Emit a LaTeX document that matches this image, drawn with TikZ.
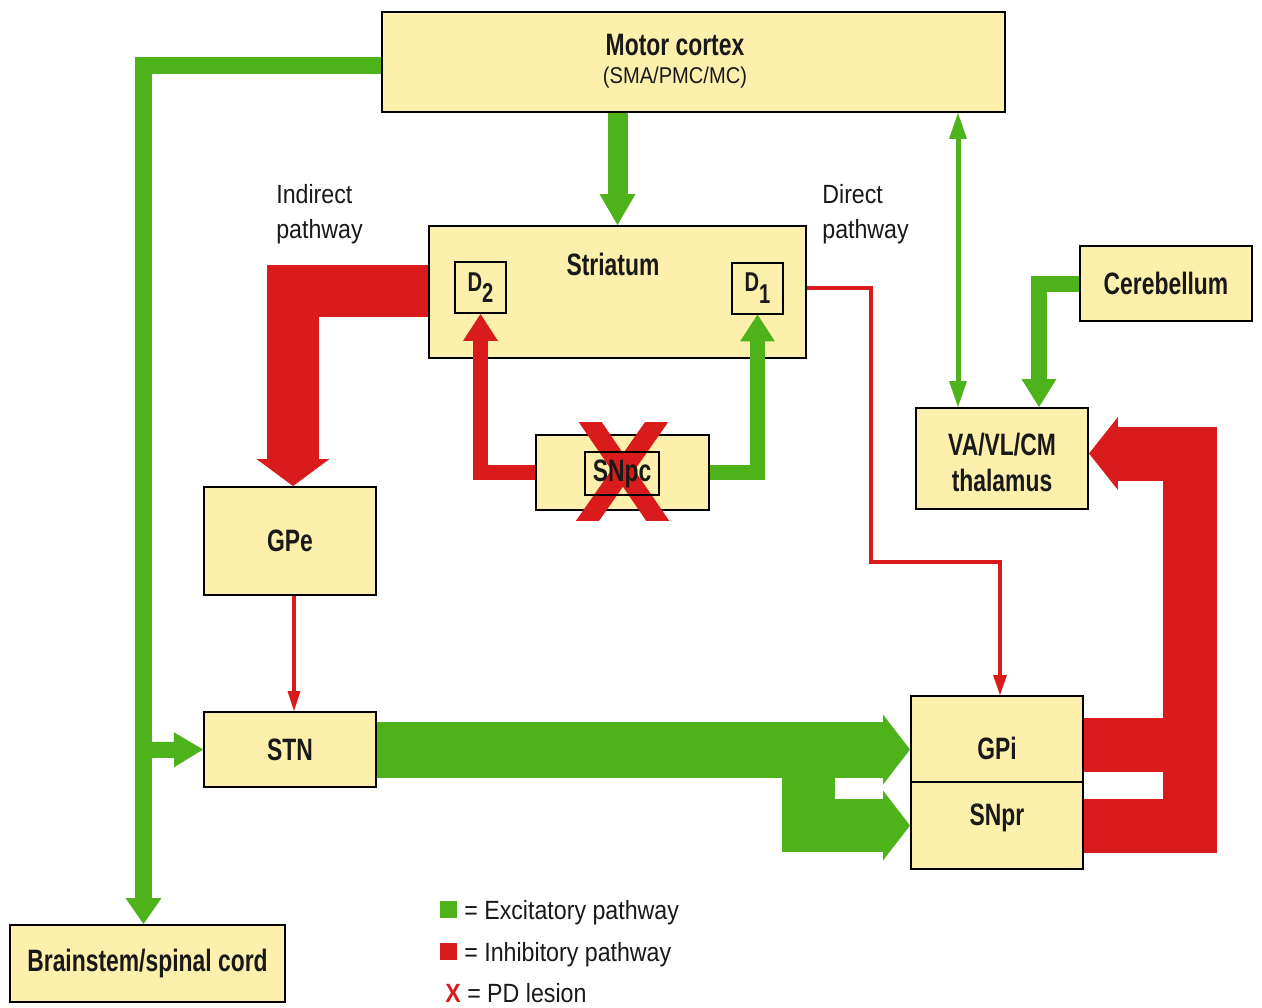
\documentclass[tikz,border=0pt]{standalone}
\usepackage{fontspec}
\setmainfont{Liberation Sans}[FakeStretch=0.88]
\newfontfamily\boxfont{Liberation Sans}[FakeStretch=0.74]
\usetikzlibrary{arrows.meta,calc}
\definecolor{boxy}{RGB}{252,240,172}
\definecolor{pg}{RGB}{78,178,26}
\definecolor{pr}{RGB}{218,27,27}
\definecolor{txt}{RGB}{25,25,25}
\tikzset{
  box/.style={draw=black, line width=0.04cm, fill=boxy, inner sep=0pt, align=center, text=txt,
    font=\boxfont\bfseries\fontsize{17.6}{20}\selectfont},
  boxtext/.style={text=txt, inner sep=0pt, align=center, font=\boxfont\bfseries\fontsize{17.6}{20}\selectfont},
  plain/.style={text=txt, inner sep=0pt, font=\fontsize{15}{19.8}\selectfont},
  arr/.style={line cap=butt, line join=miter},
}
\begin{document}
\begin{tikzpicture}[x=0.02cm,y=-0.02cm]
\useasboundingbox[fill=white] (0,0) rectangle (1262,1008);

% boxes
\node[box, minimum width=12.46cm, minimum height=2cm] (mc) at (693.5,62) {};
\node[boxtext, font=\fontsize{13}{16}\selectfont] (mcl) at (675,61)
  {{\boxfont\bfseries\fontsize{17.6}{17.6}\selectfont Motor cortex}\\(SMA/PMC/MC)};
\node[box, minimum width=7.54cm, minimum height=2.64cm] (str) at (617.5,292) {};
\node[boxtext] (strl) at (613,264) {Striatum};
\node[box, minimum size=1.02cm, font=\boxfont\bfseries\fontsize{15.5}{15.5}\selectfont] (d2) at (480.5,287.5) {D\raisebox{-0.42em}{2}};
\node[box, minimum size=1.02cm, font=\boxfont\bfseries\fontsize{15.5}{15.5}\selectfont] (d1) at (757.5,288) {D\raisebox{-0.42em}{1}};
\node[box, minimum width=3.46cm, minimum height=1.5cm] (snpc) at (622.5,472.5) {};
\node[box, minimum width=3.44cm, minimum height=2.16cm] (gpe) at (290,541) {GPe};
\node[box, minimum width=3.44cm, minimum height=1.5cm] (stn) at (290,749.5) {STN};
\node[box, minimum width=5.5cm, minimum height=1.54cm] (bs) at (147.5,963.5) {Brainstem/spinal cord};
\node[box, minimum width=3.44cm, minimum height=1.5cm] (cb) at (1166,283.5) {Cerebellum};
\node[box, minimum width=3.44cm, minimum height=2.02cm] (th) at (1002,458.5) {};
\node[boxtext] (thl) at (1002,462.5) {VA/VL/CM\\thalamus};
\node[box, minimum width=3.44cm, minimum height=1.72cm] (gpi) at (997,739) {};
\node[boxtext] (gpil) at (997,748) {GPi};
\node[box, minimum width=3.44cm, minimum height=1.74cm] (snpr) at (997,825.5) {};
\node[boxtext] (snprl) at (997,818) {SNpr};

% pathway labels
\node[plain, anchor=north west, align=left] (ind) at (276,184) {Indirect\\pathway};
\node[plain, anchor=north west, align=left] (dir) at (822,184) {Direct\\pathway};

% helper coordinates
\coordinate (stnbr) at (143.5,750);
\coordinate (bsin) at ($(bs.north)+(-4,0)$);
\coordinate (dp1) at (871,562);
\coordinate (gpiin) at ($(gpi.north)+(3,0)$);
\coordinate (thd) at ($(th.north)+(-44,0)$);
\coordinate (thc) at ($(th.north)+(37,0)$);
\coordinate (sbr) at (808.5,750);
\coordinate (rvx) at (1190,600);
\coordinate (thr) at ($(th.east)+(0,-5)$);
\coordinate (gb) at ($(gpi.east)+(0,6)$);

% green connectors
\draw[arr, pg, line width=0.34cm, -{Triangle[length=0.52cm,width=0.72cm,line width=0pt]}]
  ($(mc.west)+(0,3)$) -| (bsin);
\draw[arr, pg, line width=0.32cm, -{Triangle[length=0.58cm,width=0.70cm,line width=0pt]}]
  (stnbr) -- (stn.west);
\draw[arr, pg, line width=0.40cm, -{Triangle[length=0.62cm,width=0.72cm,line width=0pt]}]
  (str.north |- mc.south) -- (str.north);
\draw[arr, pg, line width=0.30cm, -{Triangle[length=0.54cm,width=0.70cm,line width=0pt]}]
  (snpc.east) -| (d1.south);
\draw[arr, pg, line width=0.32cm, -{Triangle[length=0.56cm,width=0.70cm,line width=0pt]}]
  (cb.west) -| (thc);
\draw[arr, pg, line width=0.10cm, {Triangle[length=0.52cm,width=0.36cm,line width=0pt]}-{Triangle[length=0.52cm,width=0.36cm,line width=0pt]}]
  (thd |- mc.south) -- (thd);
\draw[arr, pg, line width=1.12cm, -{Triangle[length=0.54cm,width=1.40cm,line width=0pt]}]
  (stn.east) -- (stn.east -| gpi.west);
\draw[arr, pg, line width=1.06cm, -{Triangle[length=0.54cm,width=1.40cm,line width=0pt]}]
  (sbr) |- (snpr.west);

% red connectors
\draw[arr, pr, line width=1.04cm, -{Triangle[length=0.54cm,width=1.46cm,line width=0pt]}]
  ($(str.west)+(0,-1.5)$) -| ($(gpe.north)+(3,0)$);
\draw[arr, pr, line width=0.30cm, -{Triangle[length=0.54cm,width=0.70cm,line width=0pt]}]
  (snpc.west) -| (d2.south);
\draw[arr, pr, line width=0.09cm, -{Triangle[length=0.40cm,width=0.28cm,line width=0pt]}]
  ($(str.east)+(0,-4)$) -| (dp1) -| (gpiin);
\draw[arr, pr, line width=0.08cm, -{Triangle[length=0.40cm,width=0.26cm,line width=0pt]}]
  ($(gpe.south)+(4,0)$) -- ($(stn.north)+(4,0)$);
\draw[arr, pr, line width=1.08cm, -{Triangle[length=0.58cm,width=1.46cm,line width=0pt]}]
  (snpr.east) -| (rvx |- thr) -- (thr);
\draw[arr, pr, line width=1.08cm] (gb) -- (gb -| rvx);

% PD lesion cross
\begin{scope}
  \clip ($(snpc.center)+(-70,-50)$) rectangle ($(snpc.center)+(70,48)$);
  \draw[pr, line width=0.38cm] ($(snpc.center)+(-38.8,-60)$) -- ($(snpc.center)+(41.8,58)$);
  \draw[pr, line width=0.38cm] ($(snpc.center)+(40.8,-60)$) -- ($(snpc.center)+(-41.8,58)$);
\end{scope}
\node[draw=black, line width=0.04cm, minimum width=1.48cm, minimum height=0.86cm, inner sep=0pt,
  text=txt, font=\boxfont\bfseries\fontsize{17.6}{20}\selectfont] (snpcin) at (622,473.5) {SNpc};

% legend
\node[fill=pg, minimum size=0.34cm, inner sep=0pt] (lg1) at (448.5,909.5) {};
\node[plain, anchor=base west] (lt1) at (464,919) {= Excitatory pathway};
\node[fill=pr, minimum size=0.34cm, inner sep=0pt] (lg2) at (448.5,951.5) {};
\node[plain, anchor=base west] (lt2) at (464,961) {= Inhibitory pathway};
\node[plain, anchor=base west] (lt3) at (445,1002) {\textcolor{pr}{\bfseries X} = PD lesion};
\end{tikzpicture}
\end{document}
